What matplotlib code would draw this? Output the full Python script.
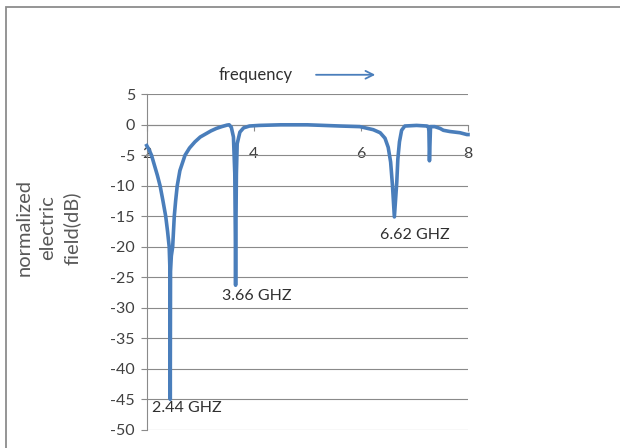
import matplotlib
matplotlib.use("Agg")
import matplotlib.pyplot as plt
from matplotlib.patches import Rectangle

plt.rcParams['font.family'] = ['Lato', 'DejaVu Sans']

# ---- data ----
freq_ghz = [2.00, 2.05, 2.09, 2.15, 2.20, 2.25, 2.30, 2.355, 2.39, 2.42, 2.435, 2.44,
            2.445, 2.46, 2.485, 2.50, 2.515, 2.54, 2.57, 2.62, 2.715, 2.80, 2.90, 3.00,
            3.12, 3.20, 3.30, 3.40, 3.50, 3.54, 3.58, 3.62, 3.645, 3.655, 3.66, 3.665,
            3.675, 3.69, 3.74, 3.81, 3.92, 4.10, 4.50, 5.00, 5.61, 5.98, 6.23, 6.36,
            6.45, 6.51, 6.555, 6.59, 6.625, 6.67, 6.69, 6.72, 6.76, 6.82, 7.04, 7.23,
            7.26, 7.27, 7.28, 7.30, 7.38, 7.48, 7.54, 7.66, 7.85, 7.98, 8.00]
field_db = [-3.4, -4.2, -5.0, -6.8, -8.3, -10.0, -12.3, -15.0, -17.5, -20.0, -24.0, -45.0,
            -24.0, -21.5, -20.0, -17.5, -15.0, -12.5, -10.0, -7.5, -5.0, -3.8, -2.8, -2.0,
            -1.4, -1.0, -0.6, -0.3, -0.05, 0.0, -0.4, -2.0, -8.0, -18.0, -26.3, -18.0,
            -8.0, -3.1, -1.2, -0.5, -0.2, -0.1, 0.0, 0.0, -0.2, -0.3, -0.8, -1.3,
            -2.2, -3.7, -6.1, -10.0, -15.1, -9.4, -5.6, -2.8, -0.9, -0.2, -0.1, -0.2,
            -0.3, -1.0, -5.9, -0.3, -0.3, -0.6, -0.9, -1.1, -1.3, -1.6, -1.6]

x_ticks = [2, 4, 6, 8]
y_ticks = [5, 0, -5, -10, -15, -20, -25, -30, -35, -40, -45, -50]
resonance_labels = ["2.44 GHZ", "3.66 GHZ", "6.62 GHZ"]

# ---- figure ----
W, H = 620, 448
fig = plt.figure(figsize=(W / 100, H / 100), dpi=100)
fig.patch.set_facecolor('white')

# outer chart frame (left and top edges visible)
fig.add_artist(Rectangle((6 / W, -0.2), 1.3, 1.2 - 7 / H,
                         transform=fig.transFigure, fill=False,
                         edgecolor='#8c8c8c', linewidth=1.3))

ax = fig.add_axes([146.7 / W, 18.2 / H, 321.3 / W, 335.5 / H])
ax.set_xlim(2, 8)
ax.set_ylim(-50, 5)

grid_c = '#8a8a8a'
ax.set_yticks(y_ticks)
ax.set_xticks(x_ticks)
ax.yaxis.grid(True, color=grid_c, linewidth=0.8)
ax.set_axisbelow(True)

for s in ['top', 'right']:
    ax.spines[s].set_visible(False)
ax.spines['left'].set_color(grid_c)
ax.spines['left'].set_linewidth(0.8)
ax.spines['bottom'].set_position(('data', 0))
ax.spines['bottom'].set_color(grid_c)
ax.spines['bottom'].set_linewidth(0.8)

ax.tick_params(axis='y', direction='out', length=4, width=0.8, color=grid_c,
               pad=4.5, labelsize=11.5, labelcolor='#404040')
ax.tick_params(axis='x', direction='out', length=4, width=0.8, color=grid_c,
               pad=12, labelsize=11.5, labelcolor='#404040')
ax.set_yticklabels([str(v) for v in y_ticks])
ax.set_xticklabels([str(v) for v in x_ticks])

ax.plot(freq_ghz, field_db, color='#4a7ebb', linewidth=2.6,
        solid_joinstyle='round', zorder=3, clip_on=False)

# annotations
txt_c = '#303030'
ax.text(2.74, -46.5, resonance_labels[0], ha='center', va='center',
        fontsize=11.5, color=txt_c)
ax.text(4.06, -28.0, resonance_labels[1], ha='center', va='center',
        fontsize=11.5, color=txt_c)
ax.text(7.01, -18.0, resonance_labels[2], ha='center', va='center',
        fontsize=11.5, color=txt_c)

ax.text(4.04, 8.1, "frequency", ha='center', va='center', fontsize=12,
        color=txt_c, clip_on=False)
ax.annotate("", xy=(6.32, 8.2), xytext=(5.11, 8.2), xycoords='data',
            annotation_clip=False,
            arrowprops=dict(arrowstyle='->', color='#4a7ebb', lw=1.3,
                            mutation_scale=14))

# y axis title
fig.text(48 / W, 1 - 228 / H, "normalized\nelectric\nfield(dB)", rotation=90,
         ha='center', va='center', fontsize=14.5, color='#595959',
         linespacing=1.45, multialignment='center')

fig.savefig("out.png", dpi=100, facecolor='white')
